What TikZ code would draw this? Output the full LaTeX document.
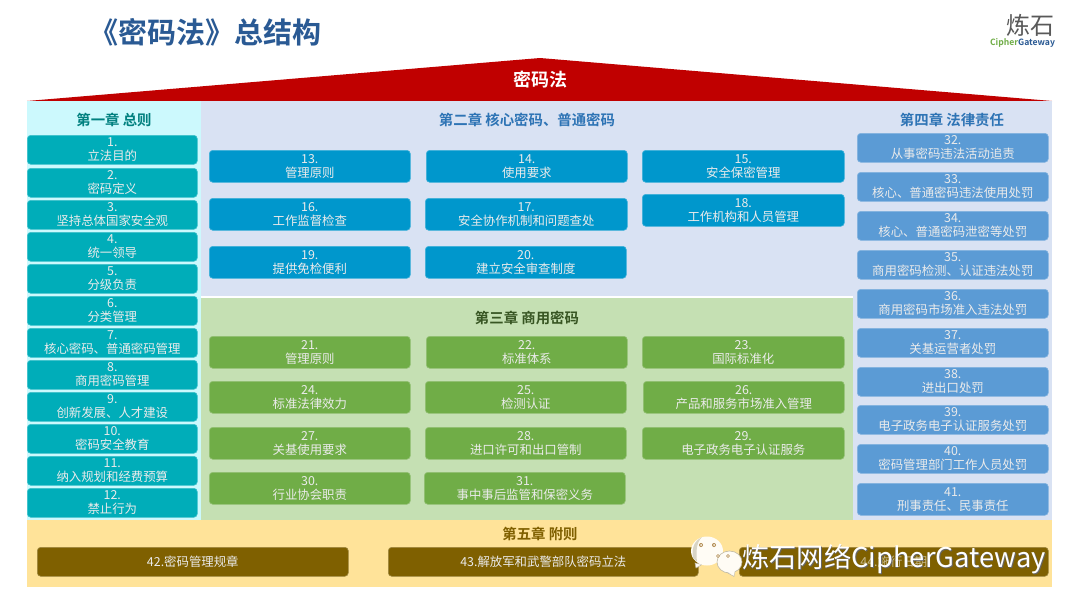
\documentclass[tikz,border=0pt]{standalone}
\usepackage{fontspec}
\setmainfont{Noto Sans CJK SC}
\newfontfamily\boldfont{Noto Sans CJK SC Bold}
\definecolor{ttl}{HTML}{2A5A94}
\definecolor{roofred}{HTML}{C00000}
\definecolor{bgcyan}{HTML}{CCF9FD}
\definecolor{bgblue}{HTML}{D9E2F3}
\definecolor{bggreen}{HTML}{C5E0B3}
\definecolor{bgyellow}{HTML}{FFE399}
\definecolor{boxcyan}{HTML}{00ADB9}
\definecolor{boxblue}{HTML}{0097CC}
\definecolor{boxgreen}{HTML}{70AD47}
\definecolor{boxsteel}{HTML}{5B9BD5}
\definecolor{boxbrown}{HTML}{7F6000}
\definecolor{headcyan}{HTML}{00807F}
\definecolor{headblue}{HTML}{2E74B5}
\definecolor{headgreen}{HTML}{385623}
\definecolor{headbrown}{HTML}{806000}
\definecolor{bubble}{HTML}{FFFCF5}
\definecolor{bubbleedge}{HTML}{BFB9A5}
\definecolor{eye}{HTML}{B08A50}
\tikzset{
 x=1pt,y=-1pt,
 panel/.style={draw=none,inner sep=0pt,outer sep=0pt,anchor=north west},
 item/.style={rounded corners=3.5pt,text=white!92!black,align=center,inner sep=0pt,anchor=north west,font=\fontsize{12.4}{14}\selectfont},
 head/.style={font=\boldfont\fontsize{14.4}{16}\selectfont,inner sep=0pt},
}
\newcommand{\panelbox}[6]{\node[panel,fill=#6,minimum width=#3 pt-#1 pt,minimum height=#4 pt-#2 pt] (#5) at (#1,#2) {};}
\newcommand{\itembox}[7]{\node[item,fill=#6,draw=#6!75!white,line width=0.6pt,minimum width=#3 pt-#1 pt,minimum height=#4 pt-#2 pt] (#5) at (#1,#2) {#7};}
\begin{document}
\begin{tikzpicture}
\useasboundingbox (0,0) rectangle (1080,608);
\fill[white] (0,0) rectangle (1080,608);
\node[font=\boldfont\fontsize{29}{32}\selectfont,text=ttl,inner sep=0pt,anchor=center] (title) at (205,32) {《密码法》总结构};
% logo
\node[font=\fontsize{24}{25}\selectfont,text=black!65,inner sep=0pt] (logo) at (1030,25) {炼石};
\node[font=\boldfont\fontsize{8.6}{9}\selectfont,inner sep=0pt] (logob) at (1022.5,42.5) {\textcolor{boxgreen}{Cipher}\textcolor{ttl}{Gateway}};
% roof
\coordinate (ra) at (27,101);
\coordinate (rb) at (540,58);
\coordinate (rc) at (1052,101);
\fill[roofred] (ra) -- (rb) -- (rc) -- cycle;
\node[font=\boldfont\fontsize{18}{20}\selectfont,text=white,inner sep=0pt] (rooft) at (540,80) {密码法};
% panels
\panelbox{27}{101}{201}{520}{p1}{bgcyan}
\panelbox{201}{101}{853}{296}{p2}{bgblue}
\panelbox{201}{298}{853}{520}{p3}{bggreen}
\panelbox{853}{101}{1052}{520}{p4}{bgblue}
\panelbox{27}{520}{1052}{587}{p5}{bgyellow}
% heads
\node[head,text=headcyan] (h1) at (114,120) {第一章 总则};
\node[head,text=headblue] (h2) at (527,120) {第二章 核心密码、普通密码};
\node[head,text=headgreen] (h3) at (527,318) {第三章 商用密码};
\node[head,text=headblue] (h4) at (952,120) {第四章 法律责任};
\node[head,text=headbrown] (h5) at (540,534) {第五章 附则};
% chapter 1
\itembox{27}{135}{197}{164}{a1}{boxcyan}{1.\\立法目的}
\itembox{27}{168}{197}{197}{a2}{boxcyan}{2.\\密码定义}
\itembox{27}{200}{197}{229}{a3}{boxcyan}{3.\\坚持总体国家安全观}
\itembox{27}{232}{197}{261}{a4}{boxcyan}{4.\\统一领导}
\itembox{27}{264}{197}{293}{a5}{boxcyan}{5.\\分级负责}
\itembox{27}{296}{197}{325}{a6}{boxcyan}{6.\\分类管理}
\itembox{27}{328}{197}{357}{a7}{boxcyan}{7.\\核心密码、普通密码管理}
\itembox{27}{360}{197}{389}{a8}{boxcyan}{8.\\商用密码管理}
\itembox{27}{392}{197}{421}{a9}{boxcyan}{9.\\创新发展、人才建设}
\itembox{27}{424}{197}{453}{a10}{boxcyan}{10.\\密码安全教育}
\itembox{27}{456}{197}{485}{a11}{boxcyan}{11.\\纳入规划和经费预算}
\itembox{27}{488}{197}{517}{a12}{boxcyan}{12.\\禁止行为}
% chapter 2
\itembox{209}{150}{410}{182}{a13}{boxblue}{13.\\管理原则}
\itembox{426}{150}{627}{182}{a14}{boxblue}{14.\\使用要求}
\itembox{642}{150}{844}{182}{a15}{boxblue}{15.\\安全保密管理}
\itembox{209}{198}{410}{230}{a16}{boxblue}{16.\\工作监督检查}
\itembox{425}{198}{627}{230}{a17}{boxblue}{17.\\安全协作机制和问题查处}
\itembox{642}{194}{844}{226}{a18}{boxblue}{18.\\工作机构和人员管理}
\itembox{209}{246}{410}{278}{a19}{boxblue}{19.\\提供免检便利}
\itembox{425}{246}{626}{278}{a20}{boxblue}{20.\\建立安全审查制度}
% chapter 3
\itembox{209}{336}{410}{368}{a21}{boxgreen}{21.\\管理原则}
\itembox{426}{336}{627}{368}{a22}{boxgreen}{22.\\标准体系}
\itembox{642}{336}{844}{368}{a23}{boxgreen}{23.\\国际标准化}
\itembox{209}{381}{410}{413}{a24}{boxgreen}{24.\\标准法律效力}
\itembox{425}{381}{626}{413}{a25}{boxgreen}{25.\\检测认证}
\itembox{643}{381}{844}{413}{a26}{boxgreen}{26.\\产品和服务市场准入管理}
\itembox{209}{427}{410}{459}{a27}{boxgreen}{27.\\关基使用要求}
\itembox{425}{427}{626}{459}{a28}{boxgreen}{28.\\进口许可和出口管制}
\itembox{642}{427}{844}{459}{a29}{boxgreen}{29.\\电子政务电子认证服务}
\itembox{209}{472}{410}{504}{a30}{boxgreen}{30.\\行业协会职责}
\itembox{424}{472}{625}{504}{a31}{boxgreen}{31.\\事中事后监管和保密义务}
% chapter 4
\itembox{857}{133}{1048}{162}{a32}{boxsteel}{32.\\从事密码违法活动追责}
\itembox{857}{172}{1048}{201}{a33}{boxsteel}{33.\\核心、普通密码违法使用处罚}
\itembox{857}{211}{1048}{240}{a34}{boxsteel}{34.\\核心、普通密码泄密等处罚}
\itembox{857}{250}{1048}{279}{a35}{boxsteel}{35.\\商用密码检测、认证违法处罚}
\itembox{857}{289}{1048}{318}{a36}{boxsteel}{36.\\商用密码市场准入违法处罚}
\itembox{857}{328}{1048}{357}{a37}{boxsteel}{37.\\关基运营者处罚}
\itembox{857}{367}{1048}{396}{a38}{boxsteel}{38.\\进出口处罚}
\itembox{857}{405}{1048}{434}{a39}{boxsteel}{39.\\电子政务电子认证服务处罚}
\itembox{857}{444}{1048}{473}{a40}{boxsteel}{40.\\密码管理部门工作人员处罚}
\itembox{857}{483}{1048}{515}{a41}{boxsteel}{41.\\刑事责任、民事责任}
% chapter 5
\itembox{37}{547}{348}{576}{a42}{boxbrown}{42.密码管理规章}
\itembox{388}{547}{698}{576}{a43}{boxbrown}{43.解放军和武警部队密码立法}
\itembox{739}{547}{1048}{576}{a44}{boxbrown}{\textcolor{white!55!boxbrown}{44.施行日期}}
% watermark
\fill[bubble,draw=bubbleedge,line width=0.5pt] (695,563) -- (696,568) -- (702,564.5) -- cycle;
\fill[bubble] (707,551) ellipse (16 and 14.5);
\fill[bubbleedge!60!bubble] (693,558) .. controls (691,546) and (696,540) .. (702,537) .. controls (696,543) and (696,552) .. (697,562) -- cycle;
\fill[bubble,draw=bubbleedge,line width=0.5pt] (735,570) -- (734,576.5) -- (727,572.5) -- cycle;
\fill[bubble,draw=bubbleedge,line width=0.6pt] (729.5,562) ellipse (12.5 and 11);
\fill[bubble] (735,569.5) -- (734,575) -- (728,572) -- cycle;
\fill[eye] (701,545) circle (2) (714,545) circle (2) (718,556) circle (1.8) (728,556) circle (1.8);
\fill[bubble] (701,545) circle (1) (714,545) circle (1) (718,556) circle (0.9) (728,556) circle (0.9);
\node[font=\fontsize{27.3}{30}\selectfont,text=black!60,inner sep=0pt] (wms) at (894.6,559.6) {炼石网络CipherGateway};
\node[font=\fontsize{27.3}{30}\selectfont,text=white,inner sep=0pt] (wm) at (894,559) {炼石网络CipherGateway};
\end{tikzpicture}
\end{document}
